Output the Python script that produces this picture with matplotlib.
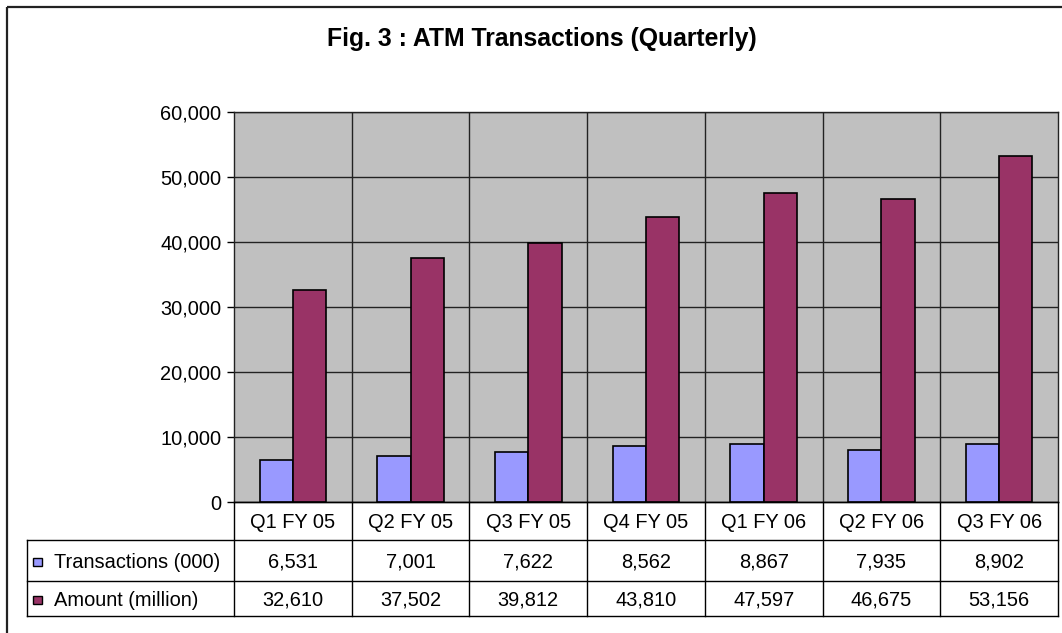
import matplotlib
matplotlib.use("Agg")
import matplotlib.pyplot as plt
from matplotlib.patches import Rectangle
from matplotlib.ticker import FuncFormatter, MultipleLocator

categories = ["Q1 FY 05", "Q2 FY 05", "Q3 FY 05", "Q4 FY 05", "Q1 FY 06", "Q2 FY 06", "Q3 FY 06"]
transactions = [6531, 7001, 7622, 8562, 8867, 7935, 8902]
amount = [32610, 37502, 39812, 43810, 47597, 46675, 53156]
series_names = ["Transactions (000)", "Amount (million)"]
series_colors = ["#9999FF", "#993366"]
title = "Fig. 3 : ATM Transactions (Quarterly)"

plt.rcParams['font.family'] = ['Liberation Sans', 'DejaVu Sans']

W, H = 1062, 633
fig = plt.figure(figsize=(W / 100, H / 100), dpi=100)
fig.patch.set_facecolor("white")

# plot area in pixels
L, R, T, B = 234, 1058, 112, 502

def fx(px):
    return px / W

def fy(py):
    return 1 - py / H

ax = fig.add_axes([fx(L), fy(B), fx(R) - fx(L), fy(T) - fy(B)])
ax.set_facecolor("#C0C0C0")
n = len(categories)
x = list(range(n))
bw = 0.283
ax.bar([i - bw / 2 for i in x], transactions, width=bw, color=series_colors[0],
       edgecolor="black", linewidth=1.2, zorder=3)
ax.bar([i + bw / 2 for i in x], amount, width=bw, color=series_colors[1],
       edgecolor="black", linewidth=1.2, zorder=3)
ax.set_xlim(-0.5, n - 0.5)
ax.set_ylim(0, 60000)
ax.yaxis.set_major_locator(MultipleLocator(10000))
ax.yaxis.set_major_formatter(FuncFormatter(lambda v, p: f"{v:,.0f}"))
ax.set_xticks([i + 0.5 for i in x[:-1]], minor=True)
ax.set_xticks([])
ax.grid(True, which="major", axis="y", color="#222222", linewidth=1.0, zorder=1)
ax.grid(True, which="minor", axis="x", color="#222222", linewidth=1.0, zorder=1)
ax.tick_params(axis="x", which="both", length=0)
ax.tick_params(axis="y", length=5, width=1, color="black", labelsize=14.4, pad=4)
for s in ax.spines.values():
    s.set_color("#222222")
    s.set_linewidth(1.0)

# overlay in pixel coords for table, title, frame
ov = fig.add_axes([0, 0, 1, 1], facecolor="none")
ov.set_xlim(0, W)
ov.set_ylim(H, 0)
ov.axis("off")

# outer frame
ov.add_patch(Rectangle((7, 6.5), W + 20, H + 20, fill=False, edgecolor="#222222", linewidth=1.6))

ov.text((326 + 757) / 2, 39, title, ha="center", va="center", fontsize=17.8, fontweight="bold")

# table
col_w = (R - L) / n
row_y = [502, 540, 581, 616]
leg_left = 27
lc = "black"
lw = 1.0
for i in range(n + 1):
    xx = L + i * col_w
    ov.plot([xx, xx], [row_y[0], row_y[3]], color=lc, lw=lw)
ov.plot([leg_left, leg_left], [row_y[1], row_y[3]], color=lc, lw=lw)
ov.plot([L, R], [row_y[0], row_y[0]], color=lc, lw=lw)
for yy in row_y[1:]:
    ov.plot([leg_left, R], [yy, yy], color=lc, lw=lw)

for i, c in enumerate(categories):
    ov.text(L + (i + 0.5) * col_w, (row_y[0] + row_y[1]) / 2 + 1, c, ha="center", va="center", fontsize=14.4)
rows = [transactions, amount]
for r, vals in enumerate(rows):
    yc = (row_y[r + 1] + row_y[r + 2]) / 2 + 1.5
    ov.add_patch(Rectangle((33, yc - 4.5), 8.5, 8.5, facecolor=series_colors[r], edgecolor="black", lw=1.0))
    ov.text(54, yc, series_names[r], ha="left", va="center", fontsize=14.4)
    for i, v in enumerate(vals):
        ov.text(L + (i + 0.5) * col_w, yc, f"{v:,}", ha="center", va="center", fontsize=14.4)

fig.savefig("out.png", dpi=100)
